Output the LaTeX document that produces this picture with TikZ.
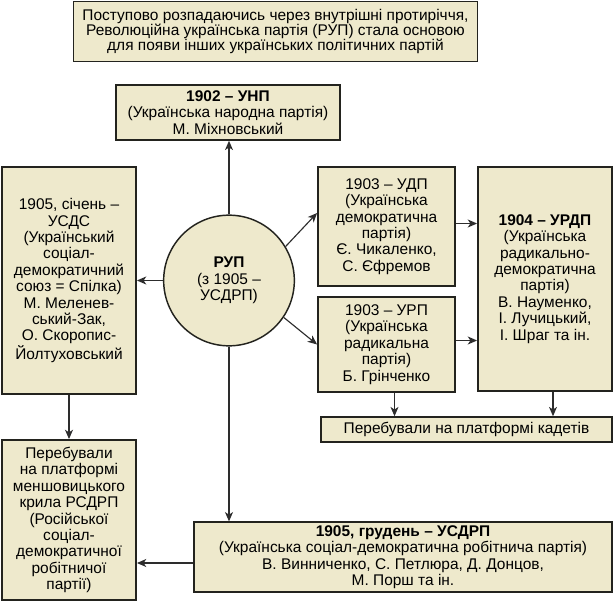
\documentclass[tikz,border=0pt]{standalone}
\usepackage{fontspec}
\setmainfont{Liberation Sans}
\usepackage{xcolor}
\usetikzlibrary{arrows.meta,calc}
\definecolor{boxfill}{RGB}{238,233,204}
\definecolor{boxline}{RGB}{35,35,30}
\definecolor{arrline}{RGB}{45,45,45}
\tikzset{
    partybox/.style={draw=boxline, line width=1.4pt, fill=boxfill, align=center,
        inner sep=2pt, font=\fontsize{11.6}{12.3}\selectfont},
    arr/.style={-{Stealth[length=7pt,width=6pt,inset=2pt]}, color=arrline, line width=0.85pt}
}

\begin{document}
\begin{tikzpicture}[x=0.75pt,y=-0.75pt]
    % basics
    \useasboundingbox (0,0) rectangle (614,603);

    \node[partybox, minimum width=303pt, minimum height=45pt,
        font=\fontsize{11.6}{11.3}\selectfont] (intro) at (275.5,31.5)
        {Поступово розпадаючись через внутрішні протиріччя,\\
         Революційна українська партія (РУП) стала основою\\
         для появи інших українських політичних партій};

    \node[circle, draw=boxline, line width=1.1pt, fill=boxfill, minimum size=98pt,
        align=center, font=\fontsize{11.6}{12.3}\selectfont] (rup) at (229,280.5)
        {\textbf{РУП}\\(з 1905 –\\УСДРП)};

    \node[partybox, minimum width=168pt, minimum height=41pt] (unp) at (228,112.5)
        {\textbf{1902 – УНП}\\(Українська народна партія)\\М. Міхновський};

    \node[partybox, minimum width=100.5pt, minimum height=170pt] (usds) at (69,280.5)
        {1905, січень –\\УСДС\\(Український\\соціал-\\демократичний\\союз = Спілка)\\
         М. Меленев-\\ський-Зак,\\О. Скоропис-\\Йолтуховський};

    \node[partybox, minimum width=102.75pt, minimum height=89pt] (udp) at (386.5,226.5)
        {1903 – УДП\\(Українська\\демократична\\партія)\\Є. Чикаленко,\\С. Єфремов};

    \node[partybox, minimum width=102.75pt, minimum height=71pt] (urp) at (386.5,344.5)
        {1903 – УРП\\(Українська\\радикальна\\партія)\\Б. Грінченко};

    \node[partybox, minimum width=100.5pt, minimum height=168pt] (urdp) at (545,279)
        {\textbf{1904 – УРДП}\\(Українська\\радикально-\\демократична\\партія)\\
         В. Науменко,\\І. Лучицький,\\І. Шраг та ін.};

    \node[partybox, minimum width=218pt, minimum height=18.5pt] (kadet) at (466.5,429.5)
        {Перебували на платформі кадетів};

    \node[partybox, minimum width=100.5pt, minimum height=120pt] (mensh) at (69,520)
        {Перебували\\на платформі\\меншовицького\\крила РСДРП\\(Російської\\соціал-\\
         демократичної\\робітничої\\партії)};

    \node[partybox, minimum width=313.5pt, minimum height=52pt] (usdrp) at (403,557)
        {\textbf{1905, грудень – УСДРП}\\(Українська соціал-демократична робітнича партія)\\
         В. Винниченко, С. Петлюра, Д. Донцов,\\М. Порш та ін.};

    % connector end points
    \coordinate (udpout) at ($(udp.east)+(0,-3)$);
    \coordinate (urpout) at ($(urp.east)+(0,-4)$);
    \coordinate (urpdown) at ($(urp.south)+(8,0)$);
    \coordinate (urdpdown) at ($(urdp.south)+(8,0)$);
    \coordinate (usdrpout) at ($(usdrp.west)+(0,6)$);

    % connectors
    \draw[arr] (rup.north) -- (rup.north |- unp.south);
    \draw[arr] (rup.west) -- (usds.east);
    \draw[arr] (rup.31) -- (udp.169);
    \draw[arr] (rup.-34) -- (urp.west);
    \draw[arr] (udpout) -- (udpout -| urdp.west);
    \draw[arr] (urpout) -- (urpout -| urdp.west);
    \draw[arr] (urpdown) -- (urpdown |- kadet.north);
    \draw[arr] (urdpdown) -- (urdpdown |- kadet.north);
    \draw[arr] (usds.south) -- (mensh.north);
    \draw[arr] (rup.south) -- (rup.south |- usdrp.north);
    \draw[arr] (usdrpout) -- (usdrpout -| mensh.east);
\end{tikzpicture}
\end{document}
